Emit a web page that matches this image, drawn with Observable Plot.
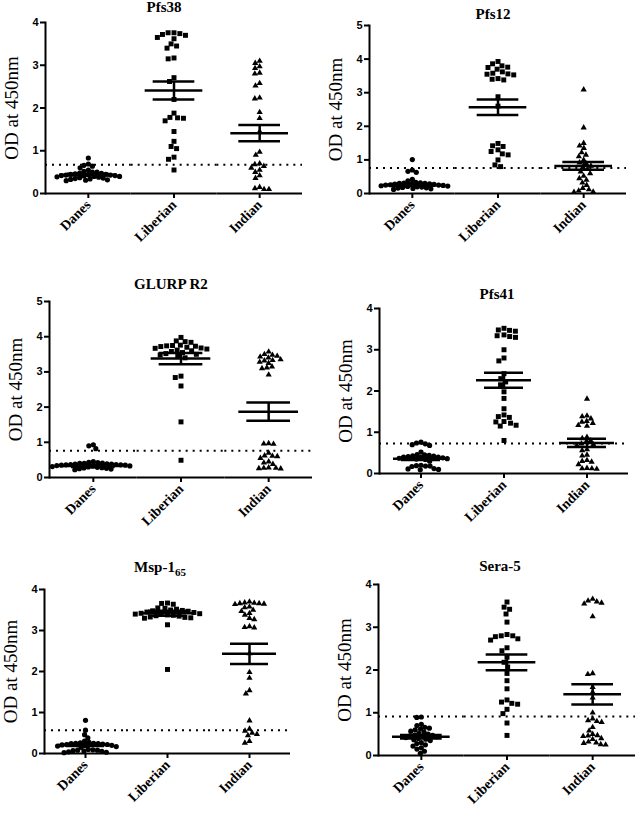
<!DOCTYPE html>
<html>
<head>
<meta charset="utf-8">
<script src="https://cdn.jsdelivr.net/npm/d3@7"></script>
<script src="https://cdn.jsdelivr.net/npm/@observablehq/plot@0.6"></script>
<style>
  body { margin: 0; background: #fff; }
  #wrap { position: relative; width: 638px; height: 814px; overflow: hidden; background: #fff; }
  #wrap svg { position: absolute; }
  .title { position: absolute; font-family: "Liberation Serif", "Times New Roman", serif; font-weight: bold; font-size: 15px; line-height: 15px; transform: translateX(-50%); white-space: nowrap; color: #000; z-index: 2; }
  .title sub { font-size: 11px; vertical-align: -4px; line-height: 0; }
  svg [aria-label="y-axis tick label"], svg [aria-label="y-axis tick label"] text { font-family: "Liberation Sans", Arial, sans-serif; font-weight: bold; font-size: 11px; }
  svg [aria-label="y-axis label"], svg [aria-label="y-axis label"] text { font-family: "Liberation Serif", "Times New Roman", serif; font-weight: normal; font-size: 19px; }
  svg [aria-label="fx-axis tick label"], svg [aria-label="fx-axis tick label"] text { font-family: "Liberation Serif", "Times New Roman", serif; font-weight: bold; font-size: 14px; }
  svg [aria-label="y-axis tick"], svg [aria-label="fx-axis tick"] { stroke-width: 2px; }
</style>
</head>
<body>
<div id="wrap"></div>
<script>
// ---------- categories, titles, ticks ----------
const groups = ["Danes", "Liberian", "Indian"];
const titles = ["Pfs38", "Pfs12", "GLURP R2", "Pfs41", "Msp-1<sub>65</sub>", "Sera-5"];
const yTicks4 = [0, 1, 2, 3, 4];
const yTicks5 = [0, 1, 2, 3, 4, 5];
const cutoffs = [0.67, 0.76, 0.76, 0.73, 0.57, 0.91];

// ---------- Pfs38 ----------
const pfs38Danes = [0.83,0.69,0.66,0.64,0.60,0.55,0.52,0.50,0.50,0.48,0.47,0.46,0.45,0.45,0.44,0.43,0.43,0.42,0.42,0.41,0.40,0.40,0.39,0.38,0.37,0.36,0.35,0.34,0.33,0.32,0.31,0.30];
const pfs38Liberian = [3.76,3.76,3.74,3.72,3.70,3.65,3.62,3.50,3.45,3.40,3.17,3.15,2.71,2.62,2.20,1.88,1.78,1.77,1.76,1.70,1.45,1.22,1.10,1.05,0.85,0.80,0.55];
const pfs38Indian = [3.10,3.05,2.97,2.93,2.82,2.80,2.58,2.52,2.24,2.22,1.90,1.76,1.45,0.97,0.90,0.70,0.68,0.64,0.60,0.55,0.50,0.42,0.36,0.15,0.12,0.10,0.10];
const pfs38Mean = [0.44, 2.41, 1.41];
const pfs38Sem = [0.02, 0.21, 0.19];

// ---------- Pfs12 ----------
const pfs12Danes = [1.01,0.70,0.66,0.63,0.42,0.38,0.33,0.32,0.31,0.30,0.30,0.29,0.28,0.28,0.27,0.26,0.25,0.25,0.24,0.23,0.22,0.21,0.20,0.19,0.18,0.17,0.16,0.15,0.14,0.12];
const pfs12Liberian = [3.93,3.86,3.80,3.76,3.75,3.70,3.62,3.58,3.56,3.55,3.53,3.42,3.40,3.38,2.88,2.60,1.49,1.42,1.40,1.30,1.25,1.18,1.15,1.00,0.85,0.80];
const pfs12Indian = [3.09,1.96,1.50,1.42,1.35,1.22,1.15,1.10,1.00,0.92,0.88,0.82,0.78,0.72,0.65,0.60,0.52,0.45,0.40,0.32,0.25,0.16,0.12,0.08,0.05,0.04];
const pfs12Mean = [0.25, 2.57, 0.82];
const pfs12Sem = [0.03, 0.23, 0.115];

// ---------- GLURP R2 ----------
const glurpDanes = [0.93,0.90,0.82,0.45,0.43,0.42,0.41,0.40,0.40,0.39,0.38,0.38,0.37,0.37,0.36,0.36,0.35,0.35,0.34,0.33,0.32,0.31,0.30,0.29,0.28,0.27,0.26,0.25,0.24,0.22];
const glurpLiberian = [3.98,3.88,3.86,3.84,3.76,3.75,3.74,3.73,3.72,3.70,3.68,3.67,3.65,3.62,3.60,3.58,3.55,3.52,3.50,3.48,3.45,3.40,2.88,2.84,2.60,1.58,0.49];
const glurpIndian = [3.57,3.50,3.48,3.45,3.43,3.40,3.35,3.33,3.32,3.28,3.25,3.15,3.12,3.10,2.92,0.97,0.96,0.95,0.70,0.62,0.61,0.60,0.55,0.45,0.42,0.38,0.28,0.27,0.27,0.26,0.25];
const glurpMean = [0.33, 3.38, 1.87];
const glurpSem = [0.03, 0.16, 0.26];

// ---------- Pfs41 ----------
const pfs41Danes = [0.76,0.74,0.72,0.70,0.68,0.52,0.46,0.45,0.44,0.43,0.42,0.41,0.40,0.40,0.39,0.38,0.37,0.36,0.35,0.34,0.30,0.20,0.19,0.18,0.18,0.17,0.12,0.11,0.10,0.09];
const pfs41Liberian = [3.52,3.48,3.47,3.45,3.36,3.34,3.32,3.30,3.00,2.80,2.73,2.42,2.30,2.22,2.15,1.98,1.82,1.57,1.42,1.38,1.36,1.26,1.25,1.22,1.17,1.15,0.80];
const pfs41Indian = [1.81,1.40,1.38,1.33,1.27,1.25,1.22,1.17,1.15,0.88,0.85,0.80,0.76,0.72,0.70,0.68,0.58,0.56,0.45,0.43,0.32,0.30,0.28,0.22,0.13,0.12,0.12,0.11];
const pfs41Mean = [0.36, 2.26, 0.74];
const pfs41Sem = [0.03, 0.18, 0.10];

// ---------- Msp-1 65 ----------
const mspDanes = [0.81,0.57,0.46,0.38,0.30,0.27,0.26,0.25,0.25,0.24,0.24,0.23,0.22,0.22,0.21,0.20,0.19,0.18,0.17,0.15,0.10,0.09,0.08,0.08,0.07,0.06,0.05,0.04,0.03,0.02];
const mspLiberian = [3.67,3.66,3.64,3.55,3.54,3.52,3.50,3.49,3.48,3.47,3.45,3.44,3.43,3.42,3.41,3.40,3.38,3.37,3.36,3.35,3.33,3.32,3.31,3.30,3.14,2.05];
const mspIndian = [3.70,3.68,3.67,3.66,3.66,3.65,3.64,3.58,3.56,3.50,3.47,3.42,3.38,3.30,3.27,3.10,3.08,3.07,2.44,1.98,1.84,1.54,1.46,0.80,0.60,0.55,0.50,0.47,0.44,0.30,0.26];
const mspMean = [0.21, 3.42, 2.43];
const mspSem = [0.03, 0.06, 0.245];

// ---------- Sera-5 ----------
const seraDanes = [0.90,0.89,0.73,0.70,0.66,0.64,0.62,0.60,0.57,0.55,0.52,0.50,0.48,0.47,0.46,0.45,0.44,0.42,0.40,0.38,0.37,0.35,0.30,0.28,0.25,0.22,0.18,0.15,0.10,0.05];
const seraLiberian = [3.59,3.47,3.42,3.31,3.12,2.83,2.80,2.80,2.78,2.73,2.70,2.52,2.45,2.30,2.18,2.07,1.92,1.75,1.56,1.30,1.25,1.22,1.20,1.08,0.98,0.76,0.47];
const seraIndian = [3.66,3.62,3.60,3.57,3.55,3.25,1.92,1.90,1.60,1.48,1.35,1.00,0.86,0.82,0.80,0.78,0.66,0.58,0.50,0.47,0.46,0.45,0.40,0.38,0.32,0.30,0.29,0.26,0.25];
const seraMean = [0.44, 2.18, 1.43];
const seraSem = [0.04, 0.185, 0.235];

const panels = [
  {values: [pfs38Danes, pfs38Liberian, pfs38Indian], mean: pfs38Mean, sem: pfs38Sem, ticks: yTicks4},
  {values: [pfs12Danes, pfs12Liberian, pfs12Indian], mean: pfs12Mean, sem: pfs12Sem, ticks: yTicks5},
  {values: [glurpDanes, glurpLiberian, glurpIndian], mean: glurpMean, sem: glurpSem, ticks: yTicks5},
  {values: [pfs41Danes, pfs41Liberian, pfs41Indian], mean: pfs41Mean, sem: pfs41Sem, ticks: yTicks4},
  {values: [mspDanes, mspLiberian, mspIndian], mean: mspMean, sem: mspSem, ticks: yTicks4},
  {values: [seraDanes, seraLiberian, seraIndian], mean: seraMean, sem: seraSem, ticks: yTicks4}
];

// ---------- layout (page pixels) ----------
const layout = [
  {left: 0,   top: 0,   width: 319, height: 265, ml: 45, mr: 17, mt: 22, mb: 72, tx: 164, ty: 0},
  {left: 320, top: 0,   width: 318, height: 265, ml: 49, mr: 12, mt: 25, mb: 72, tx: 493, ty: 7},
  {left: 0,   top: 270, width: 319, height: 270, ml: 49, mr: 7,  mt: 31, mb: 63, tx: 171, ty: 277},
  {left: 320, top: 270, width: 318, height: 270, ml: 59, mr: 10, mt: 38, mb: 67, tx: 497, ty: 287},
  {left: 0,   top: 540, width: 319, height: 274, ml: 44, mr: 29, mt: 49, mb: 61, tx: 160, ty: 560},
  {left: 320, top: 540, width: 318, height: 274, ml: 58, mr: 3,  mt: 44, mb: 59, tx: 500, ty: 559}
];

const symbols = ["circle", "square", "triangle"];
const radii = [2.6, 2.8, 2.3];
const dodgePad = [-0.6, 0.3, 0.3];

const wrap = document.getElementById("wrap");

panels.forEach((p, i) => {
  const L = layout[i];
  const ymax = p.ticks[p.ticks.length - 1];
  const stats = groups.map((g, k) => ({group: g, mean: p.mean[k], lo: p.mean[k] - p.sem[k], hi: p.mean[k] + p.sem[k]}));
  const dotMarks = groups.map((g, k) =>
    Plot.dot(p.values[k].map(v => ({group: g, value: v})),
      Plot.dodgeX({anchor: "middle", padding: dodgePad[k]},
        {fx: "group", y: "value", r: radii[k], symbol: symbols[k], fill: "black", stroke: "none"}))
  );
  const chart = Plot.plot({
    width: L.width,
    height: L.height,
    marginLeft: L.ml,
    marginRight: L.mr,
    marginTop: L.mt,
    marginBottom: L.mb,
    style: {background: "transparent", overflow: "visible"},
    fx: {domain: groups, padding: 0, round: false, label: null},
    x: {domain: [0, 1], axis: null},
    y: {domain: [0, ymax], label: null},
    marks: [
      Plot.ruleY([cutoffs[i]], {stroke: "black", strokeWidth: 2, strokeDasharray: "2,5"}),
      ...dotMarks,
      Plot.ruleY(stats, {fx: "group", y: "mean", stroke: "black", strokeWidth: 2.5, insetLeft: 14, insetRight: 14}),
      Plot.ruleY(stats, {fx: "group", y: "lo", stroke: "black", strokeWidth: 2.5, insetLeft: 22, insetRight: 22}),
      Plot.ruleY(stats, {fx: "group", y: "hi", stroke: "black", strokeWidth: 2.5, insetLeft: 22, insetRight: 22}),
      Plot.ruleX(stats, {fx: "group", x: 0.5, y1: "lo", y2: "hi", stroke: "black", strokeWidth: 2.5}),
      Plot.ruleY([0], {stroke: "black", strokeWidth: 2}),
      Plot.frame({anchor: "left", facetAnchor: "left", stroke: "black", strokeWidth: 2}),
      Plot.axisY({ticks: p.ticks, tickFormat: d => String(d), tickSize: 5, tickPadding: 2,
        label: "OD at 450nm", labelAnchor: "center", labelArrow: "none", labelOffset: 41}),
      Plot.axisFx({anchor: "bottom", tickSize: 5, tickPadding: 4, tickRotate: -45, label: null})
    ]
  });
  chart.style.left = L.left + "px";
  chart.style.top = L.top + "px";
  wrap.appendChild(chart);

  const t = document.createElement("div");
  t.className = "title";
  t.innerHTML = titles[i];
  t.style.left = L.tx + "px";
  t.style.top = L.ty + "px";
  wrap.appendChild(t);
});
</script>
</body>
</html>
